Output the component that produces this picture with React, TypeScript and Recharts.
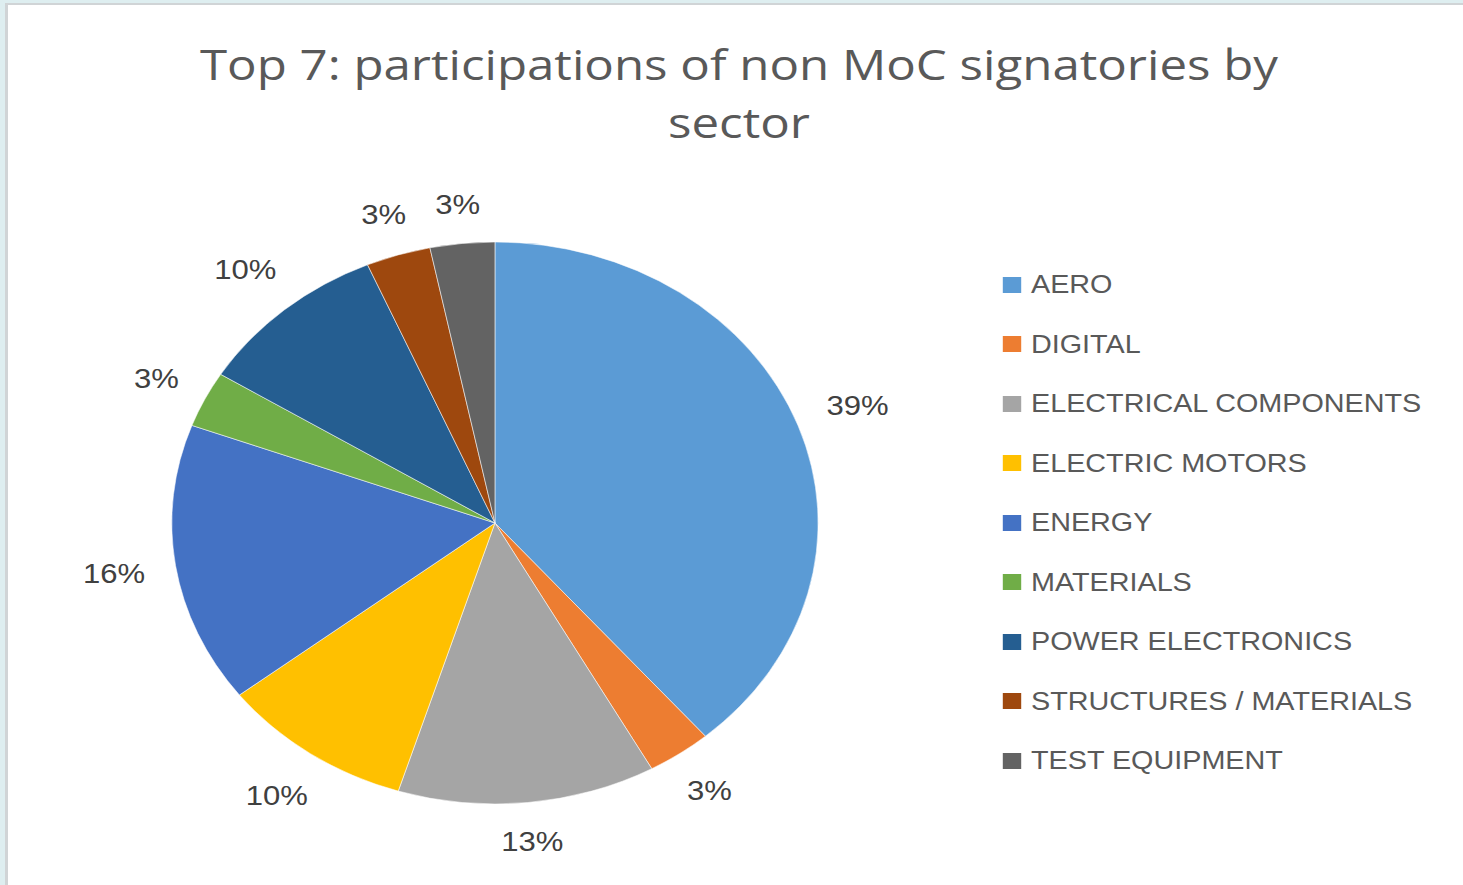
import { PieChart, Pie, Cell, Legend } from 'recharts';

const sectors = [
  'AERO',
  'DIGITAL',
  'ELECTRICAL COMPONENTS',
  'ELECTRIC MOTORS',
  'ENERGY',
  'MATERIALS',
  'POWER ELECTRONICS',
  'STRUCTURES / MATERIALS',
  'TEST EQUIPMENT',
];
const participations = [12, 1, 4, 3, 5, 1, 3, 1, 1];
const sectorColors = [
  '#5B9BD5',
  '#ED7D31',
  '#A5A5A5',
  '#FFC000',
  '#4472C4',
  '#70AD47',
  '#255E91',
  '#9E480E',
  '#636363',
];
const titleLines = ['Top 7: participations of non MoC signatories by', 'sector'];

// the original picture is stretched sideways, so the whole chart is too
const STRETCH = 1.15;
const WIDTH = 1463 / STRETCH;
const HEIGHT = 885;

const data = sectors.map((name, i) => ({ name, value: participations[i] }));

const renderLabel = (props: any) => {
  const { cx, cy, midAngle, outerRadius, percent } = props;
  const a = (-midAngle * Math.PI) / 180;
  const c = Math.cos(a);
  const s = Math.sin(a);
  const text = `${Math.round(percent * 100)}%`;
  const halfW = text.length * 9.5;
  const r = outerRadius + 24 + Math.abs(c) * halfW + Math.abs(s) * 13;
  return (
    <text
      x={cx + r * c}
      y={cy + r * s}
      textAnchor="middle"
      dominantBaseline="central"
      fill="#404040"
      style={{ fontSize: '27px', fontFamily: 'Liberation Sans, Arial, sans-serif' }}
    >
      {text}
    </text>
  );
};

const renderLegend = (props: any) => {
  const { payload = [] } = props;
  return (
    <div>
      {payload.map((entry: any, i: number) => (
        <div key={`item-${i}`} style={{ height: 59.5, display: 'flex', alignItems: 'center' }}>
          <span
            style={{
              display: 'inline-block',
              flexShrink: 0,
              width: 16,
              height: 16,
              background: entry.color || sectorColors[i],
              marginRight: 8.5,
            }}
          />
          <span
            style={{
              fontSize: '25px',
              color: '#595959',
              fontFamily: 'Liberation Sans, Arial, sans-serif',
              whiteSpace: 'nowrap',
            }}
          >
            {entry.value}
          </span>
        </div>
      ))}
    </div>
  );
};

export default function App() {
  return (
    <div style={{ position: 'relative', width: 1463, height: 885, background: '#DEEEF0', overflow: 'hidden' }}>
      <style>{'body{margin:0}'}</style>
      <div
        style={{
          position: 'absolute',
          left: 5,
          top: 3,
          right: -10,
          bottom: -10,
          background: '#fff',
          borderLeft: '3px solid #D0D4D6',
          borderTop: '2px solid #D0D4D6',
        }}
      />
      <div
        style={{
          position: 'absolute',
          left: 0,
          top: 0,
          width: WIDTH,
          height: HEIGHT,
          transform: `scaleX(${STRETCH})`,
          transformOrigin: 'left top',
        }}
      >
        <svg width={WIDTH} height={160} style={{ position: 'absolute', left: 0, top: 0 }}>
          {titleLines.map((line, i) => (
            <text
              key={line}
              x={642.6}
              y={80 + i * 58}
              textAnchor="middle"
              fill="#595959"
              style={{ fontSize: '42.8px', fontFamily: 'Open Sans, sans-serif' }}
            >
              {line}
            </text>
          ))}
        </svg>
        <div style={{ position: 'absolute', left: 0, top: 0 }}>
          <PieChart width={WIDTH} height={HEIGHT} margin={{ top: 0, right: 0, bottom: 0, left: 0 }}>
            <Pie
              data={data}
              dataKey="value"
              nameKey="name"
              cx={430.4}
              cy={523}
              outerRadius={281}
              startAngle={90}
              endAngle={-270}
              stroke="#ffffff"
              strokeWidth={0.5}
              label={renderLabel}
              labelLine={false}
              isAnimationActive={false}
            >
              {data.map((entry, index) => (
                <Cell key={`cell-${entry.name}`} fill={sectorColors[index]} />
              ))}
            </Pie>
            <Legend
              layout="vertical"
              align="right"
              verticalAlign="top"
              content={renderLegend}
              itemSorter={(item: any) => sectors.indexOf(item.value)}
              wrapperStyle={{ left: 872, right: 'auto', top: 255, width: 360 }}
            />
          </PieChart>
        </div>
      </div>
    </div>
  );
}
